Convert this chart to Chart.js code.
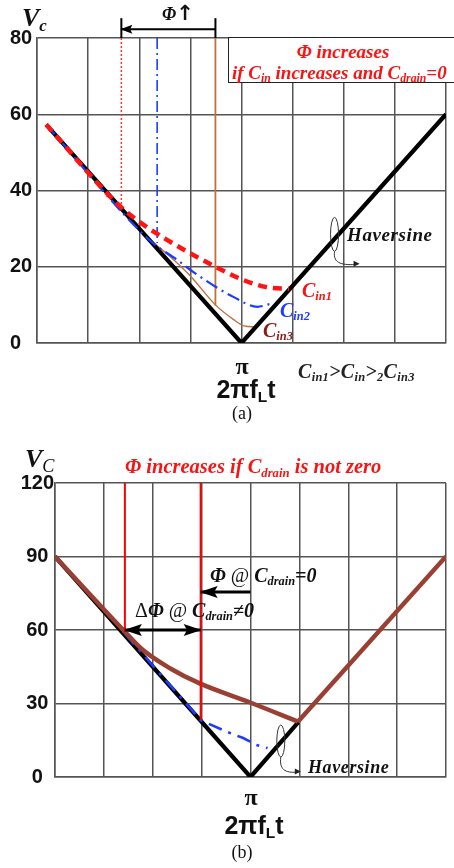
<!DOCTYPE html>
<html>
<head>
<meta charset="utf-8">
<script src="https://cdn.jsdelivr.net/npm/chart.js@4.4.1/dist/chart.umd.min.js"></script>
<style>
  body { margin: 0; background: #fff; width: 454px; height: 868px; position: relative; overflow: hidden; }
  canvas { position: absolute; left: 0; }
  .t { position: absolute; white-space: nowrap; line-height: 1; transform: translateY(-50%);
       font-family: "Liberation Serif", "Times New Roman", serif; font-weight: bold; font-style: italic; color: #111; }
  .c { transform: translate(-50%, -50%); }
  .s { font-size: 0.62em; position: relative; top: 0.28em; }
  .red { color: #f51515; }
  .sans { font-family: "Liberation Sans", Arial, sans-serif; font-style: normal; }
  .up { font-style: normal; }
  .box { position: absolute; left: 228px; top: 37px; width: 240px; height: 46px; background: #fff;
         border: 1.5px solid #222; box-sizing: border-box; }
</style>
</head>
<body>
<canvas id="chartA" width="454" height="360" style="top:0"></canvas>
<canvas id="chartB" width="454" height="360" style="top:440px"></canvas>

<!-- (a) labels -->
<div class="t" style="left:22px;top:18px;font-size:26px">V<span class="s" style="font-size:0.65em">c</span></div>
<div class="t" style="left:162px;top:13px;font-size:18px">&Phi;<span class="up" style="font-family:'DejaVu Sans';font-size:21px">&#8593;</span></div>
<div class="box"></div>
<div class="t c red" style="left:343px;top:51px;font-size:19px">&Phi; increases</div>
<div class="t red" style="left:232px;top:72px;font-size:19px">if C<span class="s">in</span> increases and C<span class="s">drain</span>=0</div>
<div class="t" style="left:347px;top:234px;font-size:19px;letter-spacing:0.6px">Haversine</div>
<div class="t red" style="left:302px;top:290px;font-size:20px">C<span class="s">in1</span></div>
<div class="t" style="left:280px;top:310px;font-size:20px;color:#1d3cff">C<span class="s">in2</span></div>
<div class="t" style="left:263px;top:330px;font-size:20px;color:#8b1b1b">C<span class="s">in3</span></div>
<div class="t c up" style="left:242px;top:366px;font-size:24px">&pi;</div>
<div class="t c sans" style="left:246px;top:389px;font-size:25px">2&pi;f<span class="s">L</span>t</div>
<div class="t" style="left:298px;top:371px;font-size:20px;color:#222;letter-spacing:0.3px">C<span class="s">in1</span>&gt;C<span class="s">in</span>&gt;<span class="s">2</span>C<span class="s">in3</span></div>
<div class="t c up" style="left:242px;top:413px;font-size:18px;font-weight:normal">(a)</div>

<!-- (b) labels -->
<div class="t" style="left:25px;top:459px;font-size:26px">V<span class="s" style="font-size:0.7em;font-weight:normal">C</span></div>
<div class="t red" style="left:125px;top:466px;font-size:20.5px">&Phi; increases if C<span class="s">drain</span> is not zero</div>
<div class="t" style="left:210px;top:575px;font-size:20px">&Phi; <span class="up" style="font-weight:normal">@</span> C<span class="s">drain</span>=0</div>
<div class="t" style="left:135px;top:610px;font-size:20px"><span class="up" style="font-weight:normal">&Delta;</span>&Phi; <span class="up" style="font-weight:normal">@</span> C<span class="s">drain</span>&ne;0</div>
<div class="t" style="left:308px;top:767px;font-size:18px;letter-spacing:0.6px">Haversine</div>
<div class="t c up" style="left:251px;top:797px;font-size:24px">&pi;</div>
<div class="t c sans" style="left:254px;top:825px;font-size:25px">2&pi;f<span class="s">L</span>t</div>
<div class="t c up" style="left:242px;top:852px;font-size:18px;font-weight:normal">(b)</div>

<script>
// x axis is in eighths of a line period: 4 = pi
// ---- (a) Cin sweep, Cdrain = 0 ----
const havA_x = [0.18, 4, 8];
const havA_y = [57.3, 0, 60];
const cin1_x = [0.18, 1.55, 1.95, 2.55, 3.0, 3.49, 4.04, 4.5, 4.93];
const cin1_y = [57.3, 36.8, 32.3, 27.0, 23.5, 20.0, 16.5, 14.6, 14.2];
const cin2_x = [0.18, 2.2, 2.74, 3.06, 3.5, 3.84, 4.31, 4.55];
const cin2_y = [57.3, 27.0, 21.8, 18.6, 14.7, 12.1, 9.5, 10.2];
const cin3_x = [2.2, 2.55, 3.0, 3.49, 3.84, 4.05, 4.28];
const cin3_y = [27.0, 23.3, 17.6, 10.0, 6.2, 4.5, 4.2];
const phiA_x = [1.65, 2.35, 3.49];      // conduction start for Cin1, Cin2, Cin3
const phiA_low = [35.8, 26.2, 9.8];
const bracketA_y = [80, 85.2];
const arrowA_y = 82.3;
const ticksA = [0, 20, 40, 60, 80];

// ---- (b) Cdrain effect ----
const havB_x = [0, 4, 4.98];
const havB_y = [90, 0, 22.4];
const drain_x = [0, 1.43, 1.8, 2.35, 2.96, 3.98, 4.97];
const drain_y = [90, 59.3, 51.8, 44.4, 38.2, 30.5, 22.6];
const drainR_x = [4.97, 8];
const drainR_y = [22.6, 90];
const ideal_x = [1.43, 2.98, 3.51, 3.85, 4.12, 4.35];
const ideal_y = [58.5, 23.2, 18.5, 15.9, 13.1, 11.8];
const phiB_x = [1.43, 2.98];
const phiB_low = [59.3, 23.3];
const arrowB0_x = [4.0, 2.98];
const arrowB0_y = 75.5;
const arrowB1_y = 60;
const ticksB = [0, 30, 60, 90, 120];

const pts = (xs, ys) => xs.map((x, i) => ({ x, y: Array.isArray(ys) ? ys[i] : ys }));
const vline = (x, y0, y1) => [{ x, y: y0 }, { x, y: y1 }];

// filled arrowheads at the ends of datasets flagged with `heads`
const arrowHeads = {
    id: 'arrowHeads',
    afterDatasetsDraw(chart) {
        const ctx = chart.ctx;
        chart.data.datasets.forEach((ds, i) => {
            if (!ds.heads) return;
            const p = chart.getDatasetMeta(i).data;
            const draw = (tip, from) => {
                const a = Math.atan2(tip.y - from.y, tip.x - from.x);
                ctx.save();
                ctx.translate(tip.x, tip.y);
                ctx.rotate(a);
                ctx.beginPath();
                ctx.moveTo(1, 0);
                ctx.lineTo(-ds.heads.len, -ds.heads.half);
                ctx.lineTo(-ds.heads.len * 0.8, 0);
                ctx.lineTo(-ds.heads.len, ds.heads.half);
                ctx.closePath();
                ctx.fillStyle = ds.borderColor;
                ctx.fill();
                ctx.restore();
            };
            if (ds.heads.end) draw(p[p.length - 1], p[p.length - 2]);
            if (ds.heads.start) draw(p[0], p[1]);
        });
    }
};

// little loop with a curled pointer that tags the haversine line
const loopMark = {
    id: 'loopMark',
    afterDatasetsDraw(chart, args, o) {
        if (!o || o.x === undefined) return;
        const { ctx, scales } = chart;
        const cx = scales.x.getPixelForValue(o.x);
        const cy = scales.y.getPixelForValue(o.y);
        ctx.save();
        ctx.strokeStyle = '#333';
        ctx.lineWidth = 1;
        ctx.beginPath();
        ctx.ellipse(cx, cy, o.rx, o.ry, 0, 0, Math.PI * 2);
        ctx.stroke();
        const bx = cx, by = cy + o.ry;
        const ex = bx + o.dx, ey = by + o.dy;
        ctx.beginPath();
        ctx.moveTo(bx, by);
        ctx.bezierCurveTo(bx - 2, by + o.dy, bx + o.dx * 0.4, ey + 1, ex, ey);
        ctx.stroke();
        ctx.beginPath();
        ctx.moveTo(ex + 2, ey - 0.5);
        ctx.lineTo(ex - 4, ey - 3.5);
        ctx.lineTo(ex - 4, ey + 2.5);
        ctx.closePath();
        ctx.fillStyle = '#222';
        ctx.fill();
        ctx.restore();
    }
};

function options(yMax, pad, axisW, crossAlign, tickPad, loop) {
    const grid = { color: '#555', lineWidth: 1.5, drawTicks: false };
    const border = { color: '#555', width: 1.5 };
    return {
        responsive: false,
        animation: false,
        layout: { padding: pad },
        plugins: { legend: { display: false }, tooltip: { enabled: false }, loopMark: loop },
        elements: { point: { radius: 0 } },
        scales: {
            x: {
                type: 'linear', min: 0, max: 8,
                ticks: { display: false, stepSize: 1 },
                grid: grid, border: border,
                afterFit: (s) => { s.height = 0; }
            },
            y: {
                min: 0, max: yMax,
                afterBuildTicks: (s) => { s.ticks = (yMax === 80 ? ticksA : ticksB).map(v => ({ value: v })); },
                ticks: {
                    crossAlign: crossAlign, padding: tickPad, color: '#111',
                    font: { family: 'Liberation Sans', weight: 'bold', size: 20 }
                },
                grid: grid, border: border,
                afterFit: (s) => { s.width = axisW; }
            }
        }
    };
}

const line = (data, color, width, extra) => Object.assign({
    type: 'line', data, borderColor: color, borderWidth: width, pointRadius: 0,
    fill: false, tension: 0
}, extra || {});
const curve = { cubicInterpolationMode: 'monotone' };

new Chart(document.getElementById('chartA'), {
    type: 'line',
    data: {
        datasets: [
            line(pts(cin1_x, cin1_y), '#ff1414', 4.5, Object.assign({ borderDash: [9, 6], order: 1 }, curve)),
            line(pts(cin2_x, cin2_y), '#1d3cff', 2.2, Object.assign({ borderDash: [13, 5, 2, 5], order: 2 }, curve)),
            line(pts(havA_x, havA_y), '#000', 4.2, { order: 3 }),
            line(pts(cin3_x, cin3_y), '#c0703c', 1.4, Object.assign({ order: 4 }, curve)),
            line(vline(phiA_x[0], 80, phiA_low[0]), '#ff3030', 1.5, { borderDash: [2, 2], order: 5 }),
            line(vline(phiA_x[1], 80, phiA_low[1]), '#1d3cff', 1.6, { borderDash: [11, 4, 2, 4], order: 5 }),
            line(vline(phiA_x[2], 80, phiA_low[2]), '#c0703c', 1.8, { order: 5 }),
            line(vline(phiA_x[0], bracketA_y[0], bracketA_y[1]), '#000', 2, { clip: false, order: 0 }),
            line(vline(phiA_x[2], bracketA_y[0], bracketA_y[1]), '#000', 2, { clip: false, order: 0 }),
            line(pts([phiA_x[2], phiA_x[0]], arrowA_y), '#000', 1.8,
                { clip: false, order: 0, heads: { end: true, len: 11, half: 4.5 } })
        ]
    },
    options: options(80, { left: 10, right: 8, top: 38, bottom: 17 }, 27, 'far', 0,
        { x: 5.82, y: 28.5, rx: 4, ry: 17, dx: 23, dy: 13 }),
    plugins: [arrowHeads, loopMark]
});

new Chart(document.getElementById('chartB'), {
    type: 'line',
    data: {
        datasets: [
            line(pts(drain_x, drain_y), '#9a3f33', 4.5, Object.assign({ order: 2 }, curve)),
            line(pts(drainR_x, drainR_y), '#9a3f33', 4.5, { order: 2 }),
            line(pts(ideal_x, ideal_y), '#1d3cff', 2.6, { borderDash: [14, 7, 3, 7], order: 3 }),
            line(pts(havB_x, havB_y), '#000', 4.2, { order: 4 }),
            line(vline(phiB_x[0], 120, phiB_low[0]), '#ff0000', 2, { order: 1 }),
            line(vline(phiB_x[1], 120, phiB_low[1]), '#ff0000', 2, { order: 1 }),
            line(pts(arrowB0_x, arrowB0_y), '#000', 3, { order: 0, heads: { end: true, len: 17, half: 6 } }),
            line(pts(phiB_x, arrowB1_y), '#000', 3, { order: 0, heads: { start: true, end: true, len: 17, half: 6 } })
        ]
    },
    options: options(120, { left: 0, right: 8, top: 43, bottom: 23 }, 55, 'center', 1,
        { x: 4.62, y: 14.7, rx: 4, ry: 16, dx: 18, dy: 15 }),
    plugins: [arrowHeads, loopMark]
});
</script>
</body>
</html>
